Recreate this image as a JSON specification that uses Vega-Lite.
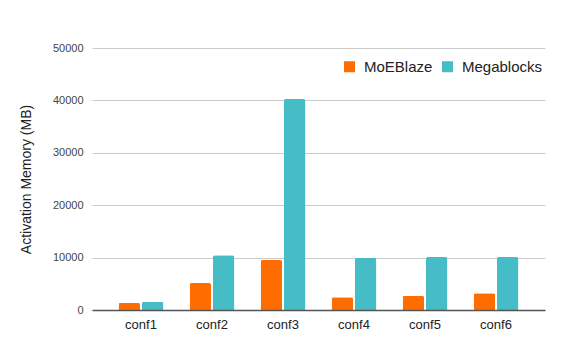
{
  "$schema": "https://vega.github.io/schema/vega-lite/v6.json",
  "autosize": {"type": "none"},
  "width": 453,
  "height": 262,
  "padding": {"left": 92, "top": 48, "right": 16, "bottom": 37},
  "background": "#ffffff",
  "data": {
    "values": [
      {"config": "conf1", "method": "MoEBlaze", "memory": 1390},
      {"config": "conf1", "method": "Megablocks", "memory": 1580},
      {"config": "conf2", "method": "MoEBlaze", "memory": 5150},
      {"config": "conf2", "method": "Megablocks", "memory": 10440},
      {"config": "conf3", "method": "MoEBlaze", "memory": 9540},
      {"config": "conf3", "method": "Megablocks", "memory": 40250},
      {"config": "conf4", "method": "MoEBlaze", "memory": 2420},
      {"config": "conf4", "method": "Megablocks", "memory": 9920},
      {"config": "conf5", "method": "MoEBlaze", "memory": 2730},
      {"config": "conf5", "method": "Megablocks", "memory": 10110},
      {"config": "conf6", "method": "MoEBlaze", "memory": 3190},
      {"config": "conf6", "method": "Megablocks", "memory": 10110}
    ]
  },
  "mark": {"type": "bar", "cornerRadiusTopLeft": 2, "cornerRadiusTopRight": 2},
  "encoding": {
    "x": {
      "field": "config",
      "type": "nominal",
      "scale": {"paddingInner": 0.37, "paddingOuter": 0.375},
      "axis": {
        "title": null,
        "labelAngle": 0,
        "labelFont": "Liberation Sans",
        "labelFontSize": 13,
        "labelColor": "#222222",
        "labelPadding": 8,
        "ticks": false,
        "domain": true,
        "domainColor": "#555555",
        "domainWidth": 1.5,
        "zindex": 1
      }
    },
    "xOffset": {
      "field": "method",
      "type": "nominal",
      "sort": ["MoEBlaze", "Megablocks"],
      "scale": {"paddingInner": 0.08}
    },
    "y": {
      "field": "memory",
      "type": "quantitative",
      "scale": {"domain": [0, 50000], "nice": false},
      "axis": {
        "title": "Activation Memory (MB)",
        "values": [0, 10000, 20000, 30000, 40000, 50000],
        "format": "d",
        "titleFont": "Liberation Sans",
        "titleFontSize": 14,
        "titleFontWeight": "normal",
        "titleColor": "#222222",
        "titlePadding": 19,
        "labelFont": "Liberation Sans",
        "labelFontSize": 11,
        "labelColor": "#444444",
        "labelPadding": 9,
        "ticks": false,
        "domain": false,
        "grid": true,
        "gridColor": "#cccccc",
        "gridWidth": 1
      }
    },
    "color": {
      "field": "method",
      "type": "nominal",
      "sort": ["MoEBlaze", "Megablocks"],
      "scale": {"domain": ["MoEBlaze", "Megablocks"], "range": ["#FF6D01", "#46BDC6"]},
      "legend": {
        "title": null,
        "orient": "none",
        "direction": "horizontal",
        "legendX": 250,
        "legendY": 11,
        "symbolType": "square",
        "symbolSize": 121,
        "symbolStrokeWidth": 0,
        "labelFont": "Liberation Sans",
        "labelFontSize": 15,
        "labelColor": "#222222",
        "labelOffset": 7,
        "columnPadding": 7
      }
    }
  },
  "config": {"view": {"stroke": null}}
}
